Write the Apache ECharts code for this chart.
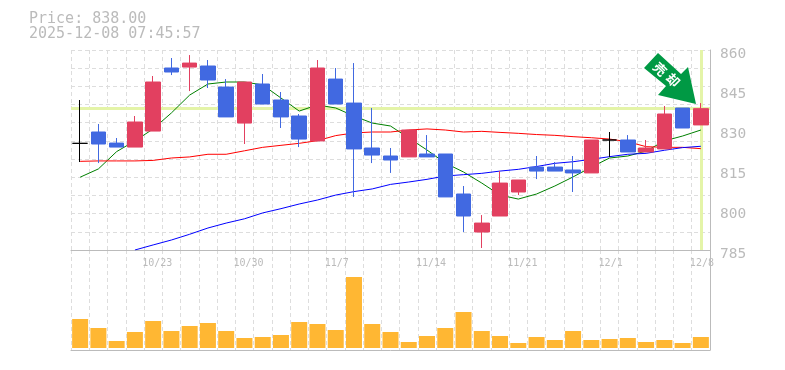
<!DOCTYPE html>
<html>
<head>
<meta charset="utf-8">
<style>
html, body { margin: 0; padding: 0; background: #fff; }
#chart { width: 785px; height: 370px; }
</style>
<script src="https://cdn.jsdelivr.net/npm/echarts@6/dist/echarts.min.js"></script>
</head>
<body>
<div id="chart"></div>
<script>
// 日付
const dates = ['10/17','10/20','10/21','10/22','10/23','10/24','10/27','10/28','10/29','10/30','10/31','11/4','11/5','11/6','11/7','11/10','11/11','11/12','11/13','11/14','11/17','11/18','11/19','11/20','11/21','11/25','11/26','11/27','11/28','12/1','12/2','12/3','12/4','12/5','12/8'];
const shownDates = ['10/23','10/30','11/7','11/14','11/21','12/1','12/8'];

// open, close, low, high
const opens  = [825,829.25,825.1,823.6,829.6,853.25,853.6,854,846.1,832.6,847.25,841.25,835.25,825.9,849.1,840.1,823.25,820.25,819.9,821,821,806,791.75,797.75,806.75,816.1,816.1,815,813.9,826.25,826.25,821.75,822.9,838.25,831.9];
const closes = [825,824.75,823.6,833,848,851.75,855.1,848.75,834.9,848,839.75,834.9,826.6,853.25,839.75,822.9,820.6,818.75,830,819.9,804.9,797.75,795.1,810.1,811.25,814.6,814.6,813.9,826.25,826.25,821.75,823.25,836,830.75,838];
const lows   = [818,817.6,823.6,823.6,829.6,850.6,844.6,845.75,834.9,824.75,839.75,830.75,823.6,825.9,839.75,804.9,817.6,813.9,819.9,819.9,804.9,791.75,785.75,797.75,805.6,811.6,814.6,806.75,813.9,819.9,821.75,821.75,822.9,830.75,831.9];
const highs  = [841.25,832.25,827,835.25,850.25,857,858.1,856.25,849.1,848,851,844.25,836,856.25,853.25,855.1,838.25,823.25,830,828.1,821,809,798.1,814.6,811.25,820.25,818,820.25,826.25,829.25,828.1,826.25,839,838.25,840.1];

// 移動平均
const maGreen = [812.3,815.4,821.9,825.9,830.4,836.4,843.1,847.25,848,848,846.9,842,837.1,839.4,838.25,835.25,832.6,831.5,827,822.5,817.6,814.25,810.1,805.6,804.1,806,809,812.4,816.1,819.5,820.25,822.1,825.9,827.75,830];
const maRed   = [818.25,818.4,818.4,818.4,818.6,819.5,819.9,820.9,820.9,822.2,823.5,824.25,825,826,827.9,828.9,829.25,829.25,830,830.4,830,829.25,829.5,829.1,828.75,828.3,828,827.5,827.1,826.6,825.6,823.75,823.5,823.5,823];
const maBlue  = [null,null,null,785,786.9,788.75,790.9,793.25,795.1,796.7,798.9,800.5,802.25,803.75,805.6,806.9,807.9,809.6,810.5,811.5,812.75,813.25,813.75,814.6,815.25,816.3,817.5,818.1,819,820,820.9,821.25,822.4,823.4,823.9];

// 出来高
const volumes = [29,20,7,16,27,17,22,25,17,10,11,13,26,24,18,71,24,16,6,12,20,36,17,12,5,11,8,17,8,9,10,6,8,5,11];

const priceTicks = [785,800,815,830,845,860];
const lastPrice = 838.00;
const lastTime = '2025-12-08 07:45:57';

const GRAY = '#bbbbbb';
const DASH = { color: '#dddddd', type: [4, 3], width: 1 };
const MONO = '"DejaVu Sans Mono", monospace';

const candles = dates.map((d, i) => {
  const item = { value: [opens[i], closes[i], lows[i], highs[i]] };
  if (opens[i] === closes[i]) {
    item.itemStyle = { color: '#000', color0: '#000', borderColor: '#000', borderColor0: '#000' };
  }
  return item;
});

const arrowText = (ch, x, y) => ({
  type: 'text', z: 21, x, y, rotation: -Math.PI / 4,
  style: { text: ch, fill: '#fff', font: 'bold 13px "Noto Sans CJK JP"', align: 'center', verticalAlign: 'middle' }
});

const chart = echarts.init(document.getElementById('chart'), null, { renderer: 'canvas' });

chart.setOption({
  animation: false,
  backgroundColor: '#fff',
  textStyle: { fontFamily: MONO },
  title: {
    left: 29, top: 12, padding: 0,
    text: 'Price: ' + lastPrice.toFixed(2) + '\n' + lastTime,
    textStyle: { color: GRAY, fontSize: 15, fontWeight: 'normal', fontFamily: MONO, lineHeight: 15 }
  },
  grid: [
    { left: 71, top: 50, width: 639, height: 200 },
    { left: 71, top: 250, width: 639, height: 100 }
  ],
  xAxis: [
    {
      type: 'category', gridIndex: 0, data: dates, boundaryGap: true,
      axisTick: { show: false },
      axisLine: { onZero: false, lineStyle: { color: GRAY, width: 1 } },
      axisLabel: {
        interval: (i, v) => shownDates.includes(v),
        hideOverlap: false, showMinLabel: true, showMaxLabel: true,
        color: GRAY, fontSize: 10, fontFamily: MONO, align: 'left', margin: 8,
        padding: [0, 0, 0, -11]
      },
      splitLine: { show: true, interval: 0, lineStyle: DASH }
    },
    {
      type: 'category', gridIndex: 1, data: dates, boundaryGap: true,
      axisTick: { show: false },
      axisLabel: { show: false },
      axisLine: { onZero: false, lineStyle: { color: GRAY, width: 1 } },
      splitLine: { show: true, interval: 0, lineStyle: DASH }
    }
  ],
  yAxis: [
    {
      type: 'value', gridIndex: 0, min: priceTicks[0], max: priceTicks[5], interval: 15, position: 'right',
      axisLine: { show: true, lineStyle: { color: GRAY, width: 1 } },
      axisTick: { show: false },
      axisLabel: { color: GRAY, fontSize: 14.5, fontFamily: MONO, margin: 10, verticalAlign: 'top', padding: [-3, 0, 0, 0] },
      splitLine: { show: false }
    },
    {
      // 横の点線だけ（価格目盛りとは別）
      type: 'value', gridIndex: 0, min: 0, max: 11, interval: 1, position: 'left',
      axisLine: { show: false }, axisTick: { show: false }, axisLabel: { show: false },
      splitLine: { show: true, lineStyle: DASH }
    },
    {
      type: 'value', gridIndex: 1, min: -2, max: 98, position: 'right',
      axisLine: { show: true, lineStyle: { color: GRAY, width: 1 } },
      axisTick: { show: false }, axisLabel: { show: false }, splitLine: { show: false }
    }
  ],
  series: [
    {
      name: 'current', type: 'line', xAxisIndex: 0, yAxisIndex: 0, data: [], z: 1, silent: true,
      markLine: {
        silent: true, symbol: 'none', label: { show: false }, animation: false, z: 1,
        lineStyle: { color: '#e4f4a8', type: 'solid', width: 3 },
        data: [{ yAxis: lastPrice }, { xAxis: dates[dates.length - 1] }]
      }
    },
    { name: 'ma1', type: 'line', xAxisIndex: 0, yAxisIndex: 0, data: maGreen, symbol: 'none', z: 2, lineStyle: { color: '#008000', width: 1 } },
    { name: 'ma2', type: 'line', xAxisIndex: 0, yAxisIndex: 0, data: maRed, symbol: 'none', z: 2, lineStyle: { color: '#ff0000', width: 1 } },
    { name: 'ma3', type: 'line', xAxisIndex: 0, yAxisIndex: 0, data: maBlue, symbol: 'none', z: 2, lineStyle: { color: '#0000ff', width: 1 } },
    {
      name: 'price', type: 'candlestick', xAxisIndex: 0, yAxisIndex: 0, data: candles, barWidth: 15, z: 3,
      itemStyle: { color: '#e24060', color0: '#4169e1', borderColor: '#e24060', borderColor0: '#4169e1', borderWidth: 1 }
    },
    {
      name: 'volume', type: 'bar', xAxisIndex: 1, yAxisIndex: 2, data: volumes, barWidth: 16,
      itemStyle: { color: '#ffb733' }
    }
  ],
  graphic: [
    {
      type: 'polygon', z: 20,
      shape: { points: [[658, 53], [644, 68], [666, 86], [658, 95], [696, 104], [688, 67], [681, 74]] },
      style: { fill: '#009944' }
    },
    arrowText('売', 660, 69),
    arrowText('却', 673, 80)
  ]
});
</script>
</body>
</html>
